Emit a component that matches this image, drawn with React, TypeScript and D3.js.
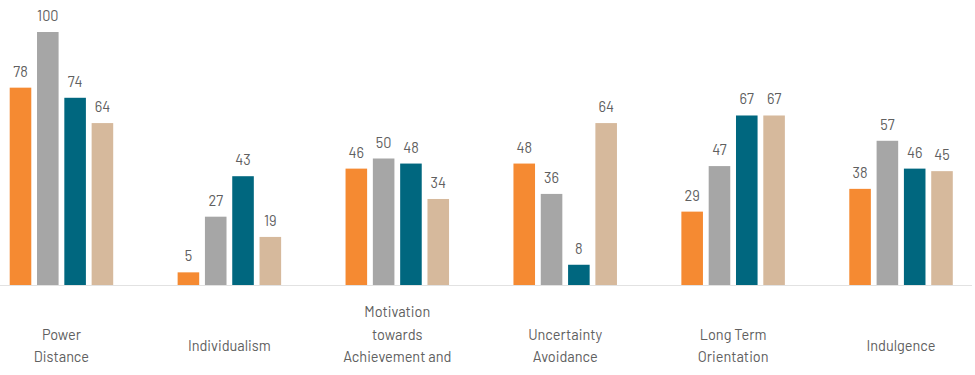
import React from "react";
import * as d3 from "d3";

const categories = [
  "Power Distance",
  "Individualism",
  "Motivation towards Achievement and Success",
  "Uncertainty Avoidance",
  "Long Term Orientation",
  "Indulgence",
];
const categoryLines = [
  ["Power", "Distance"],
  ["Individualism"],
  ["Motivation", "towards", "Achievement and", "Success"],
  ["Uncertainty", "Avoidance"],
  ["Long Term", "Orientation"],
  ["Indulgence"],
];
const seriesNames = ["Series A", "Series B", "Series C", "Series D"];
const seriesA = [78, 5, 46, 48, 29, 38];
const seriesB = [100, 27, 50, 36, 47, 57];
const seriesC = [74, 43, 48, 8, 67, 46];
const seriesD = [64, 19, 34, 64, 67, 45];
const seriesValues = [seriesA, seriesB, seriesC, seriesD];
const colors = ["#F58A32", "#A6A6A6", "#00677F", "#D6B99C"];

const W = 975;
const H = 375;
const baseY = 285;
const topY = 32;
const font = "Barlow, Roboto, 'Noto Sans', sans-serif";
const textColor = "#606060";

export default function App() {
  const x0 = d3.scaleBand<string>().domain(categories).range([-22.5, 985]).paddingInner(0).paddingOuter(0);
  const x1 = d3
    .scaleBand<string>()
    .domain(seriesNames)
    .range([0, 103.5])
    .paddingInner(0.21)
    .paddingOuter(0);
  const y = d3.scaleLinear().domain([0, 100]).range([baseY, topY]);
  const lineH = 22.5;
  const labelMid = 346;

  return (
    <svg
      width={W}
      height={H}
      style={{ position: "absolute", left: 0, top: 0, background: "#fff" }}
      fontFamily={font}
    >
      <line x1={0} x2={972} y1={baseY + 0.5} y2={baseY + 0.5} stroke="#E2E2E2" strokeWidth={1.2} />
      {categories.map((c, i) => {
        const gx = (x0(c) as number) + x0.bandwidth() / 2 - 103.5 / 2;
        const lines = categoryLines[i];
        const startY = labelMid - ((lines.length - 1) * lineH) / 2;
        const cx = (x0(c) as number) + x0.bandwidth() / 2;
        return (
          <g key={c}>
            {seriesNames.map((s, j) => {
              const v = seriesValues[j][i];
              const bx = gx + (x1(s) as number);
              return (
                <g key={s}>
                  <rect x={bx} y={y(v)} width={x1.bandwidth()} height={baseY - y(v)} fill={colors[j]} />
                  <text
                    x={bx + x1.bandwidth() / 2}
                    y={y(v) - 11}
                    textAnchor="middle"
                    fontSize={14.5}
                    fill={textColor}
                  >
                    {v}
                  </text>
                </g>
              );
            })}
            <text x={cx} textAnchor="middle" fontSize={14.5} fill={textColor}>
              {lines.map((l, k) => {
                const ly = startY + k * lineH;
                if (ly + 8 > H) return null; // line falls below the visible area, as in the reference
                return (
                  <tspan key={k} x={cx} y={ly} dy="0.35em">
                    {l}
                  </tspan>
                );
              })}
            </text>
          </g>
        );
      })}
    </svg>
  );
}
